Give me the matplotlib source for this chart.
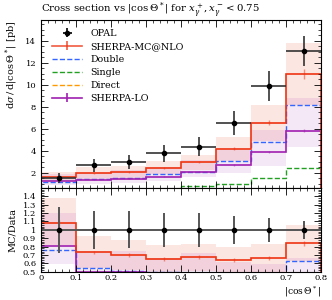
import numpy as np
import matplotlib
matplotlib.use("Agg")
import matplotlib.pyplot as plt
from matplotlib.ticker import MultipleLocator

plt.rcParams['font.family'] = ['DejaVu Serif']
plt.rcParams['mathtext.fontset'] = 'dejavuserif'

# bins in |cos Theta*|
edges = np.array([0.0, 0.1, 0.2, 0.3, 0.4, 0.5, 0.6, 0.7, 0.8])
centers = 0.5 * (edges[:-1] + edges[1:])

# OPAL data
opal = np.array([1.52, 2.67, 2.95, 3.76, 4.36, 6.55, 9.88, 13.1])
opal_err = np.array([0.42, 0.6, 0.65, 0.75, 0.87, 1.1, 1.4, 1.38])

# Sherpa MC@NLO + band
mcnlo = np.array([1.64, 1.95, 2.05, 2.45, 2.95, 4.18, 6.55, 10.97])
mcnlo_err = np.array([0.05, 0.06, 0.07, 0.08, 0.1, 0.15, 0.25, 0.45])
mcnlo_hi = np.array([2.1, 2.48, 2.6, 3.1, 3.6, 5.2, 8.2, 13.8])
mcnlo_lo = np.array([1.25, 1.45, 1.55, 1.85, 2.2, 3.1, 4.9, 8.2])

# components
double = np.array([1.16, 1.44, 1.49, 1.85, 2.09, 3.09, 4.76, 8.15])
single = np.array([0.25, 0.35, 0.45, 0.55, 0.82, 0.95, 1.49, 2.4])
direct = np.array([0.1, 0.12, 0.14, 0.17, 0.2, 0.25, 0.35, 0.5])

# Sherpa LO + band
sherpa_lo = np.array([1.22, 1.34, 1.45, 1.64, 2.09, 2.7, 3.9, 5.82])
sherpa_lo_err = np.array([0.03, 0.04, 0.04, 0.05, 0.06, 0.08, 0.1, 0.15])
lo_hi = np.array([1.83, 2.0, 2.2, 2.5, 3.15, 4.05, 5.9, 8.76])
lo_lo = np.array([0.9, 1.0, 1.08, 1.2, 1.62, 1.95, 2.6, 4.36])

RED = '#ee3311'
BLUE = '#3366ff'
GREEN = '#22a022'
ORANGE = '#ff9900'
PURPLE = '#a020b0'

fig = plt.figure(figsize=(3.32, 3.00), dpi=100)
ax = fig.add_axes([41/332, 1 - 188/300, 280/332, 168/300])
rax = fig.add_axes([41/332, 1 - 271.7/300, 280/332, 83.7/300], sharex=ax)

# main panel
ax.stairs(mcnlo_hi, edges, baseline=mcnlo_lo, fill=True, color=RED, alpha=0.12, lw=0)
ax.stairs(lo_hi, edges, baseline=lo_lo, fill=True, color=PURPLE, alpha=0.1, lw=0)
ax.stairs(direct, edges, color=ORANGE, ls='--', lw=1)
ax.stairs(single, edges, color=GREEN, ls='--', lw=1)
ax.stairs(double, edges, color=BLUE, ls='--', lw=1)
ax.stairs(sherpa_lo, edges, color=PURPLE, lw=1.2)
ax.errorbar(centers, sherpa_lo, yerr=sherpa_lo_err, fmt='none', ecolor=PURPLE, alpha=0.5, lw=1)
ax.stairs(mcnlo, edges, color=RED, lw=1.2)
ax.errorbar(centers, mcnlo, yerr=mcnlo_err, fmt='none', ecolor=RED, alpha=0.5, lw=1)
ax.errorbar(centers, opal, xerr=0.05, yerr=opal_err, fmt='o', color='black', ms=3,
            lw=1.2, ecolor='#333333')

# legend proxies
h_opal = ax.errorbar([], [], xerr=1, yerr=1, fmt='o', color='black', ms=3, lw=1.2)
h_nlo = ax.errorbar([], [], yerr=1, color=RED, lw=1.2, alpha=0.8)
h_dbl, = ax.plot([], [], color=BLUE, ls='--', lw=1)
h_sgl, = ax.plot([], [], color=GREEN, ls='--', lw=1)
h_dir, = ax.plot([], [], color=ORANGE, ls='--', lw=1)
h_lo = ax.errorbar([], [], yerr=1, color=PURPLE, lw=1.2)
ax.legend([h_opal, h_nlo, h_dbl, h_sgl, h_dir, h_lo],
          ['OPAL', 'SHERPA-MC@NLO', 'Double', 'Single', 'Direct', 'SHERPA-LO'],
          loc='upper left', bbox_to_anchor=(0.02, 0.98), frameon=False, fontsize=6.8,
          handlelength=3.2, labelspacing=0.42, borderaxespad=0.2, handletextpad=0.8)

ax.set_xlim(0, 0.8)
ax.set_ylim(0.6, 15.9)
ax.yaxis.set_major_locator(MultipleLocator(2))
ax.yaxis.set_minor_locator(MultipleLocator(0.5))
ax.set_ylabel(r'$\mathrm{d}\sigma\,/\,\mathrm{d}|\cos\Theta^*|$ [pb]', fontsize=7, loc='top')
ax.set_title(r'Cross section vs $|\cos\Theta^*|$ for $x_\gamma^+, x_\gamma^- < 0.75$',
             fontsize=7.3, loc='left', pad=4)
plt.setp(ax.get_xticklabels(), visible=False)

# ratio panel
rax.stairs(mcnlo_hi / opal, edges, baseline=mcnlo_lo / opal, fill=True, color=RED, alpha=0.12, lw=0)
rax.stairs(lo_hi / opal, edges, baseline=lo_lo / opal, fill=True, color=PURPLE, alpha=0.1, lw=0)
rax.stairs(direct / opal, edges, color=ORANGE, ls='--', lw=1)
rax.stairs(single / opal, edges, color=GREEN, ls='--', lw=1)
rax.stairs(double / opal, edges, color=BLUE, ls='--', lw=1)
rax.stairs(sherpa_lo / opal, edges, color=PURPLE, lw=1.2)
rax.stairs(mcnlo / opal, edges, color=RED, lw=1.2)
rax.errorbar(centers, mcnlo / opal, yerr=mcnlo_err / opal, fmt='none', ecolor=RED, alpha=0.5, lw=1)
rax.errorbar(centers, np.ones_like(opal), xerr=0.05, yerr=opal_err / opal, fmt='o',
             color='black', ms=3, lw=1.4, ecolor='#555555')

rax.set_ylim(0.5, 1.5)
rax.yaxis.set_minor_locator(MultipleLocator(0.02))
rax.set_yticks(np.arange(0.5, 1.41, 0.1))
rax.set_yticklabels(['0.5', '0.6', '0.7', '0.8', '0.9', '1', '1.1', '1.2', '1.3', '1.4'])
rax.set_ylabel('MC/Data', fontsize=7)
rax.xaxis.set_minor_locator(MultipleLocator(0.02))
rax.set_xticks(np.arange(0, 0.81, 0.1))
rax.set_xticklabels(['0', '0.1', '0.2', '0.3', '0.4', '0.5', '0.6', '0.7', '0.8'])
fig.text(321/332, 1 - 294.5/300, r'$|\cos\Theta^*|$', fontsize=6.6, ha='right', va='baseline')

for a in (ax, rax):
    a.tick_params(which='both', direction='in', top=True, right=True, labelsize=6)
    a.tick_params(which='major', length=5, width=0.6)
    a.tick_params(which='minor', length=2.5, width=0.5)
    for s in a.spines.values():
        s.set_linewidth(0.8)
rax.tick_params(axis='x', pad=1.5)

fig.align_ylabels([ax, rax])
fig.savefig('out.png', dpi=100)
